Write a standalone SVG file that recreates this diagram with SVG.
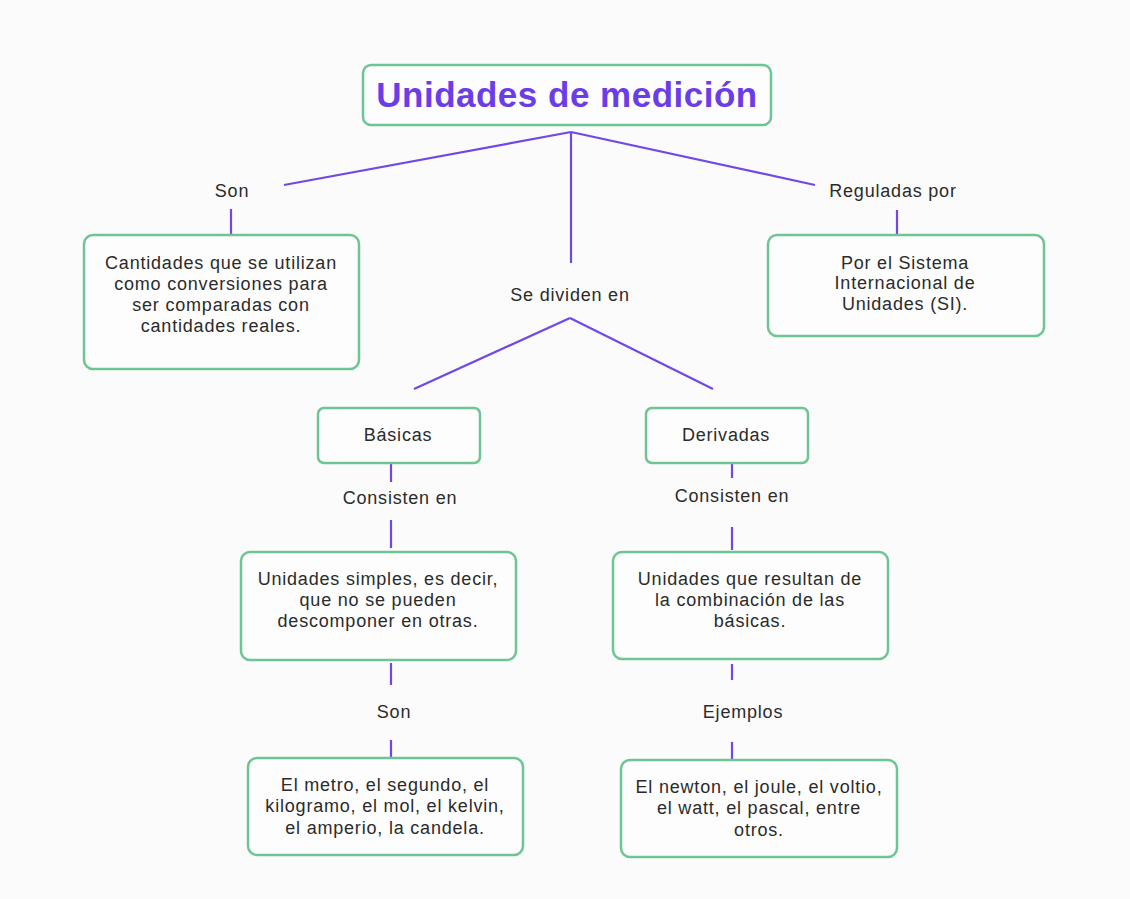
<svg xmlns="http://www.w3.org/2000/svg" width="1130" height="899" viewBox="0 0 1130 899">
<style>
.bg{fill:#fbfbfb}
.box{fill:#fdfdfd;stroke:#6dc593;stroke-width:2.5}
.t{font-family:"Liberation Sans",Arial,sans-serif;font-size:18px;letter-spacing:0.8px;fill:#2b2b2b;text-anchor:middle}
.title{font-family:"Liberation Sans",Arial,sans-serif;font-size:35px;letter-spacing:0.5px;font-weight:bold;fill:#6a3de8;text-anchor:middle}
.c{stroke:#7048e8;stroke-width:2.2;fill:none}
</style>
<rect class="bg" x="0" y="0" width="1130" height="899"/>
<g id="connectors">
<path class="c" d="M571 132 L284 185 M571 132 L571 263 M571 132 L815 185"/>
<path class="c" d="M231 209 V235 M897 210 V235"/>
<path class="c" d="M570 318 L414 389 M570 318 L713 389"/>
<path class="c" d="M391 463 V482 M391 520 V548 M391 663 V685 M391 740 V758"/>
<path class="c" d="M732 463 V478 M732 527 V550 M732 664 V680 M732 742 V760"/>
</g>
<g id="labels">
<text class="t" x="232" y="197">Son</text>
<text class="t" x="893" y="197">Reguladas por</text>
<text class="t" x="570" y="301">Se dividen en</text>
<text class="t" x="400" y="504">Consisten en</text>
<text class="t" x="732" y="502">Consisten en</text>
<text class="t" x="394" y="718">Son</text>
<text class="t" x="743" y="718">Ejemplos</text>
</g>
<g id="root">
<rect class="box" x="363" y="65" width="408" height="60" rx="8"/>
<text class="title" x="567" y="107">Unidades de medición</text>
</g>
<g id="n-cantidades">
<rect class="box" x="84" y="235" width="275" height="134" rx="9"/>
<text class="t" x="221" y="269">Cantidades que se utilizan</text>
<text class="t" x="221" y="290">como conversiones para</text>
<text class="t" x="221" y="311">ser comparadas con</text>
<text class="t" x="221" y="332">cantidades reales.</text>
</g>
<g id="n-si">
<rect class="box" x="768" y="235" width="276" height="101" rx="9"/>
<text class="t" x="905" y="269">Por el Sistema</text>
<text class="t" x="905" y="289">Internacional de</text>
<text class="t" x="905" y="310">Unidades (SI).</text>
</g>
<g id="n-basicas">
<rect class="box" x="318" y="408" width="162" height="55" rx="6"/>
<text class="t" x="398" y="441">Básicas</text>
</g>
<g id="n-derivadas">
<rect class="box" x="646" y="408" width="162" height="55" rx="6"/>
<text class="t" x="726" y="441">Derivadas</text>
</g>
<g id="n-simples">
<rect class="box" x="241" y="552" width="275" height="108" rx="9"/>
<text class="t" x="378" y="585">Unidades simples, es decir,</text>
<text class="t" x="378" y="606">que no se pueden</text>
<text class="t" x="378" y="627">descomponer en otras.</text>
</g>
<g id="n-resultan">
<rect class="box" x="613" y="552" width="275" height="107" rx="9"/>
<text class="t" x="750" y="585">Unidades que resultan de</text>
<text class="t" x="750" y="606">la combinación de las</text>
<text class="t" x="750" y="627">básicas.</text>
</g>
<g id="n-metro">
<rect class="box" x="248" y="758" width="275" height="97" rx="9"/>
<text class="t" x="385" y="791">El metro, el segundo, el</text>
<text class="t" x="385" y="812">kilogramo, el mol, el kelvin,</text>
<text class="t" x="385" y="834">el amperio, la candela.</text>
</g>
<g id="n-newton">
<rect class="box" x="621" y="760" width="276" height="97" rx="9"/>
<text class="t" x="759" y="793">El newton, el joule, el voltio,</text>
<text class="t" x="759" y="814">el watt, el pascal, entre</text>
<text class="t" x="759" y="836">otros.</text>
</g>
</svg>
